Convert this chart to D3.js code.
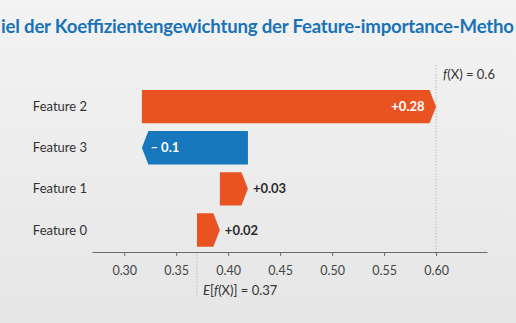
<!DOCTYPE html>
<html><head><meta charset="utf-8">
<script src="https://cdn.jsdelivr.net/npm/d3@7"></script>
<style>
html,body{margin:0;padding:0;overflow:hidden;}
body{width:516px;height:323px;}
svg{display:block;font-family:Lato,"Open Sans",sans-serif;}
</style></head>
<body><svg id="c" width="516" height="323"></svg>
<script>
// Data (waterfall, drawn bottom-up from the base value)
const titleText = "iel der Koeffizientengewichtung der Feature-importance-Metho";
const baseValue = 0.37;
const features = ["Feature 0", "Feature 1", "Feature 3", "Feature 2"];
const contributions = [0.022, 0.027, -0.102, 0.283];
const valueLabels = ["+0.02", "+0.03", "\u2013 0.1", "+0.28"];
const finalLabel = "0.6";
const baseLabel = "0.37";
const tickValues = [0.30, 0.35, 0.40, 0.45, 0.50, 0.55, 0.60];
const displayOrder = ["Feature 2", "Feature 3", "Feature 1", "Feature 0"];

const ORANGE = "#E95322", BLUE = "#1777BD";
const svg = d3.select("#c");

const defs = svg.append("defs");
const g0 = defs.append("linearGradient").attr("id","bg").attr("x1",0).attr("y1",0).attr("x2",0).attr("y2",1);
g0.append("stop").attr("offset","0%").attr("stop-color","#F3F3F3");
g0.append("stop").attr("offset","100%").attr("stop-color","#E6E6E6");
svg.append("rect").attr("width",516).attr("height",323).attr("fill","url(#bg)");

svg.append("text").attr("x",1).attr("y",33)
  .attr("font-size",18.6).attr("font-weight",700).attr("fill","#1A72B8")
  .attr("textLength",513).attr("lengthAdjust","spacing")
  .text(titleText);

const x = d3.scaleLinear().domain([0.269, 0.649]).range([92, 487]);
const y = d3.scaleBand().domain(displayOrder).range([86.1, 250.5]).paddingInner(0.187).paddingOuter(0.0935);

// cumulative
let cur = baseValue;
const rows = features.map((f, i) => {
  const start = cur, end = cur + contributions[i];
  cur = end;
  return {f, start, end, v: contributions[i], label: valueLabels[i]};
});
const finalValue = cur;

const axisY = 252;
// dotted reference lines
svg.append("line").attr("x1", x(finalValue)).attr("x2", x(finalValue))
  .attr("y1", 65).attr("y2", axisY)
  .attr("stroke","#BDBDBD").attr("stroke-width",1).attr("stroke-dasharray","1.5,1.5");
svg.append("line").attr("x1", x(baseValue)).attr("x2", x(baseValue))
  .attr("y1", axisY).attr("y2", 296)
  .attr("stroke","#BDBDBD").attr("stroke-width",1).attr("stroke-dasharray","1.5,1.5");

// arrows
const tip = 6.5;
const bars = svg.append("g");
rows.forEach(r => {
  const y0 = y(r.f), h = y.bandwidth(), ym = y0 + h/2;
  const xs = x(r.start), xe = x(r.end);
  let pts;
  if (r.v >= 0) {
    pts = [[xs,y0],[xe-tip,y0],[xe,ym],[xe-tip,y0+h],[xs,y0+h]];
  } else {
    pts = [[xs,y0],[xe+tip,y0],[xe,ym],[xe+tip,y0+h],[xs,y0+h]];
  }
  bars.append("path").attr("d", d3.line()(pts) + "Z")
    .attr("fill", r.v >= 0 ? ORANGE : BLUE);
  const wide = Math.abs(xe - xs) > 60;
  const t = bars.append("text").attr("y", ym).attr("dy","0.35em")
    .attr("font-size",13).attr("font-weight",700).text(r.label);
  if (wide) {
    if (r.v >= 0) t.attr("x", xe - tip - 5).attr("text-anchor","end").attr("fill","#fff");
    else t.attr("x", xe + tip + 2).attr("text-anchor","start").attr("fill","#fff");
  } else {
    t.attr("x", xe + 5).attr("text-anchor","start").attr("fill","#2B2B2B");
  }
});

// y labels
svg.append("g").selectAll("text").data(displayOrder).join("text")
  .attr("x", 87).attr("y", d => y(d) + y.bandwidth()/2).attr("dy","0.35em")
  .attr("text-anchor","end").attr("font-size",13).attr("fill","#333").text(d => d);

// x axis
const ax = svg.append("g").attr("transform", `translate(0,${axisY})`)
  .call(d3.axisBottom(x).tickValues(tickValues).tickSize(4).tickSizeOuter(0).tickFormat(d3.format(".2f")));
ax.select(".domain").attr("stroke","#6B6B6B");
ax.selectAll(".tick line").attr("stroke","#6B6B6B");
ax.selectAll(".tick text").attr("font-size",12.5).attr("fill","#444").attr("font-family","Lato,sans-serif").attr("dy","1.3em");

// annotations
const fx = svg.append("text").attr("x", x(finalValue) + 7).attr("y", 78.5).attr("font-size",13).attr("fill","#333");
fx.append("tspan").attr("font-style","italic").text("f");
fx.append("tspan").text("(X) = " + finalLabel);
const ex = svg.append("text").attr("x", x(baseValue) + 6).attr("y", 295).attr("font-size",13).attr("fill","#333");
ex.append("tspan").attr("font-style","italic").text("E");
ex.append("tspan").text("[");
ex.append("tspan").attr("font-style","italic").text("f");
ex.append("tspan").text("(X)] = " + baseLabel);
</script></body></html>
